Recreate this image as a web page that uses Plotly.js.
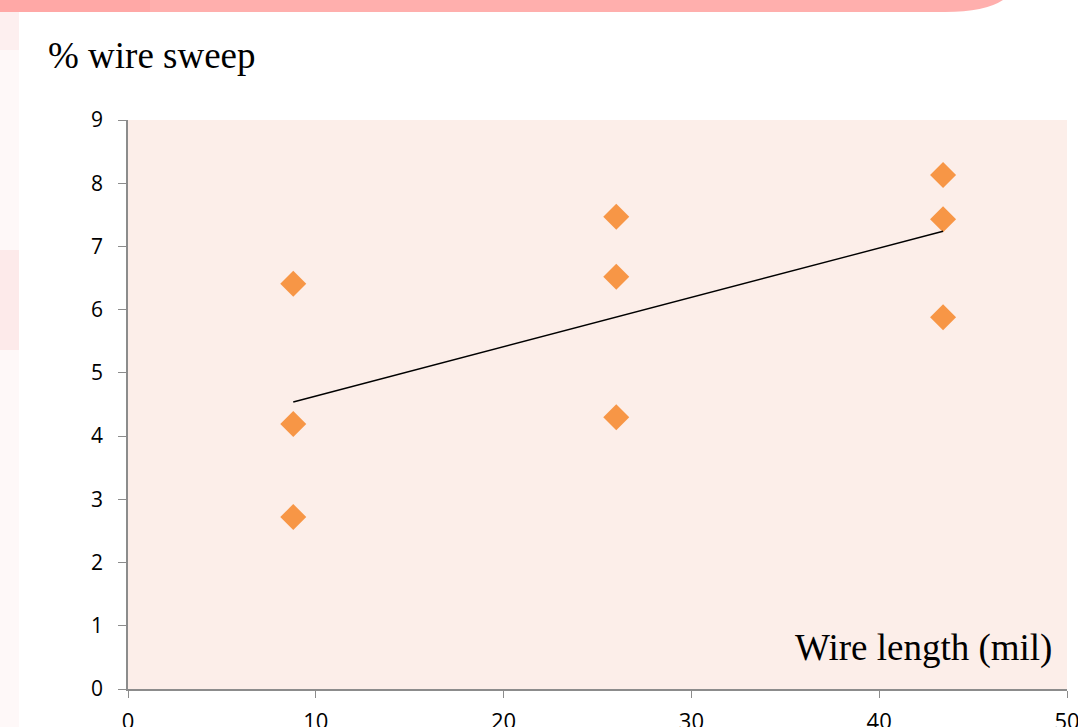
<!DOCTYPE html>
<html><head><meta charset="utf-8">
<script src="https://cdn.plot.ly/plotly-3.0.1.min.js"></script>
<style>html,body{margin:0;padding:0;background:#fff;}#chart{width:1078px;height:727px;}</style>
</head><body><div id="chart"></div>
<script>
// Data
const wireLength = [8.8, 8.8, 8.8, 26, 26, 26, 43.4, 43.4, 43.4];
const wireSweep  = [6.41, 4.19, 2.72, 7.47, 6.52, 4.30, 8.13, 7.43, 5.88];
const trendX = [8.8, 43.4];
const trendY = [4.54, 7.24];
const xTicks = [0, 10, 20, 30, 40, 50];
const yTicks = [0, 1, 2, 3, 4, 5, 6, 7, 8, 9];

const W = 1078, H = 727;
const mL = 128, mR = 11, mT = 120, mB = 38;
const pw = W - mL - mR, ph = H - mT - mB;
const px = v => (v - mL) / pw;          // pixel -> paper x
const py = v => (H - mB - v) / ph;      // pixel -> paper y

const traces = [
  {x: wireLength, y: wireSweep, type: 'scatter', mode: 'markers',
   marker: {symbol: 'diamond', size: 20, color: '#F79646', line: {width: 0}},
   hoverinfo: 'x+y', showlegend: false},
  {x: trendX, y: trendY, type: 'scatter', mode: 'lines',
   line: {color: '#000000', width: 1.4}, hoverinfo: 'skip', showlegend: false}
];

const layout = {
  width: W, height: H,
  margin: {l: mL, r: mR, t: mT, b: mB, pad: 0},
  paper_bgcolor: '#ffffff',
  plot_bgcolor: '#FCEEE9',
  showlegend: false,
  xaxis: {range: [0, 50], tickvals: xTicks, ticktext: xTicks.map(String),
    showgrid: false, zeroline: false, showline: true, linecolor: '#8C8C8C', linewidth: 1.5,
    ticks: 'outside', ticklen: 7, tickcolor: '#8C8C8C', tickwidth: 1,
    ticklabelstandoff: 5, ticklabeloverflow: 'allow',
    tickfont: {family: '"Open Sans", "Noto Sans", sans-serif', size: 22, color: '#000'},
    fixedrange: true},
  yaxis: {range: [0, 9], tickvals: yTicks, ticktext: yTicks.map(String),
    showgrid: false, zeroline: false, showline: true, linecolor: '#8C8C8C', linewidth: 1.5,
    ticks: 'outside', ticklen: 8, tickcolor: '#8C8C8C', tickwidth: 1,
    ticklabelstandoff: 11, ticklabeloverflow: 'allow',
    tickfont: {family: '"Open Sans", "Noto Sans", sans-serif', size: 21, color: '#000'},
    fixedrange: true},
  shapes: [
    // slide decoration: top pink band with rounded right end
    {type: 'path', xref: 'paper', yref: 'paper', layer: 'below',
     path: 'M ' + px(0) + ' ' + py(0) + ' L ' + px(1003) + ' ' + py(0) +
           ' Q ' + px(985) + ' ' + py(12) + ' ' + px(945) + ' ' + py(12) +
           ' L ' + px(0) + ' ' + py(12) + ' Z',
     fillcolor: '#FFAFAD', line: {width: 0}},
    {type: 'rect', xref: 'paper', yref: 'paper', layer: 'below',
     x0: px(0), x1: px(150), y0: py(12), y1: py(0), fillcolor: '#FFA8A6', line: {width: 0}},
    {type: 'rect', xref: 'paper', yref: 'paper', layer: 'below',
     x0: px(0), x1: px(19), y0: py(727), y1: py(12), fillcolor: '#FEF8F8', line: {width: 0}},
    {type: 'rect', xref: 'paper', yref: 'paper', layer: 'below',
     x0: px(0), x1: px(19), y0: py(350), y1: py(250), fillcolor: '#FDEAEA', line: {width: 0}},
    {type: 'rect', xref: 'paper', yref: 'paper', layer: 'below',
     x0: px(0), x1: px(19), y0: py(50), y1: py(12), fillcolor: '#FDEFEF', line: {width: 0}}
  ],
  annotations: [
    {text: '% wire sweep', xref: 'paper', yref: 'paper', x: px(46), y: py(56),
     xanchor: 'left', yanchor: 'middle', showarrow: false,
     font: {family: '"Liberation Serif", "DejaVu Serif", serif', size: 37, color: '#000'}},
    {text: 'Wire length (mil)', xref: 'paper', yref: 'paper', x: px(1054), y: py(648),
     xanchor: 'right', yanchor: 'middle', showarrow: false,
     font: {family: '"Liberation Serif", "DejaVu Serif", serif', size: 37, color: '#000'}}
  ]
};

Plotly.newPlot('chart', traces, layout, {displayModeBar: false});
</script></body></html>
